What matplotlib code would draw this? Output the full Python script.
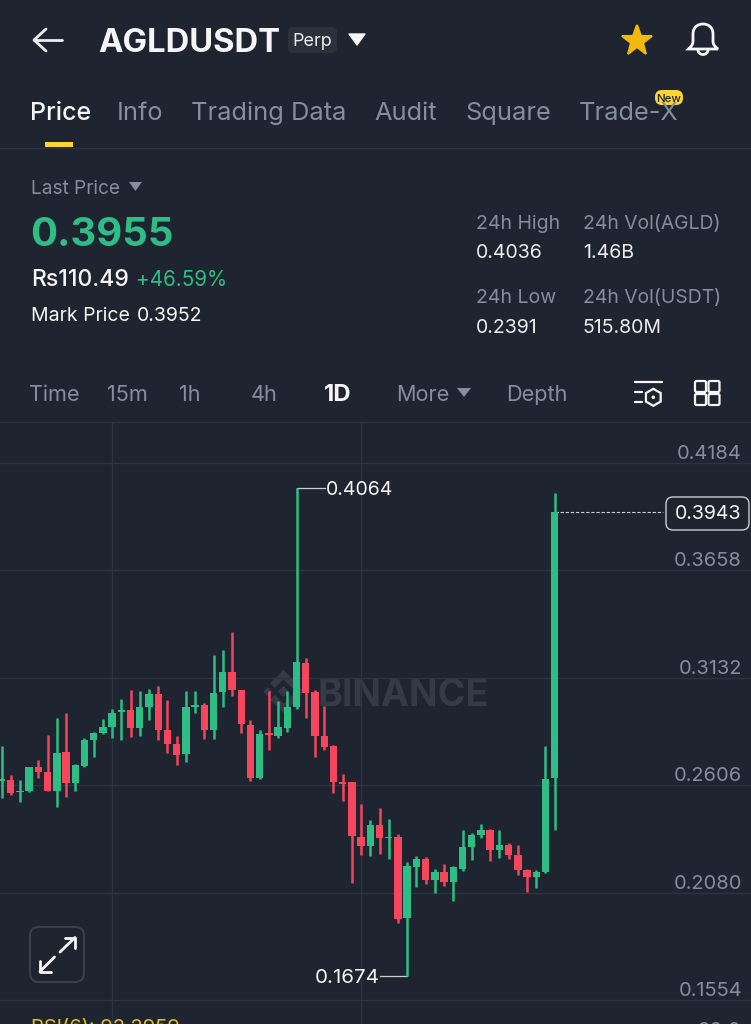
import numpy as np
import matplotlib
matplotlib.use("Agg")
import matplotlib.pyplot as plt
from matplotlib.patches import FancyBboxPatch, Polygon, PathPatch, Circle, RegularPolygon
from matplotlib.path import Path

plt.rcParams['font.family'] = ['Inter', 'DejaVu Sans']

BG = '#1F2530'
GRID = '#2E343F'
GREY = '#848E9C'
LIGHT = '#EAECEF'
GREEN = '#2EBD85'
RED = '#F6465D'
YELLOW = '#FCD535'

# daily candles, oldest first
opens = [.2628, .2633, .2571, .2576, .2693, .2673, .2580, .2768, .2617, .2698, .2827, .2861, .2892,
         .2965, .2975, .2886, .2991, .3055, .2876, .2807, .2758, .2991, .3001, .2876, .3062, .3159,
         .3073, .2903, .2639, .2861, .2848, .2888, .2988, .3206, .3062, .2846, .2796, .2623, .2620,
         .2354, .2309, .2413, .2346, .2351, .1955, .2207, .2245, .2144, .2180, .2133, .2198, .2304,
         .2361, .2388, .2287, .2315, .2264, .2191, .2157, .2180, .2639]
highs = [.2796, .2657, .2633, .2696, .2727, .2853, .2935, .2959, .2711, .2837, .2869, .2930, .2979,
         .3029, .3073, .3069, .3076, .3092, .3021, .2848, .3065, .3065, .3011, .3244, .3269, .3355,
         .3073, .2926, .2877, .3067, .3019, .3069, .4064, .3228, .3073, .2995, .2804, .2661, .2622,
         .2514, .2437, .2494, .2441, .2369, .2230, .2258, .2253, .2196, .2222, .2212, .2385, .2372,
         .2418, .2393, .2387, .2323, .2313, .2196, .2189, .2796, .4036]
lows = [.2543, .2556, .2522, .2573, .2641, .2576, .2497, .2546, .2580, .2693, .2742, .2856, .2837,
        .2828, .2842, .2845, .2926, .2828, .2763, .2703, .2722, .2959, .2832, .2833, .2988, .3045,
        .2861, .2629, .2637, .2779, .2835, .2868, .2981, .2933, .2742, .2779, .2568, .2530, .2128,
        .2266, .2260, .2271, .2246, .1932, .1674, .2106, .2123, .2079, .2111, .2039, .2188, .2242,
        .2348, .2233, .2248, .2245, .2168, .2084, .2105, .2176, .2388]
closes = [.2638, .2568, .2580, .2693, .2673, .2579, .2766, .2617, .2705, .2827, .2861, .2892, .2962,
          .2975, .2887, .2991, .3055, .2877, .2807, .2755, .2991, .3001, .2876, .3060, .3159, .3074,
          .2905, .2643, .2859, .2851, .2890, .2991, .3208, .3057, .2848, .2793, .2623, .2613, .2356,
          .2309, .2411, .2348, .2354, .1952, .2209, .2245, .2144, .2180, .2133, .2203, .2304, .2364,
          .2387, .2287, .2315, .2266, .2189, .2158, .2180, .2636, .3943]

price_ticks = [.4184, .3658, .3132, .2606, .2080, .1554]
tick_labels = ['0.4184', '0.3658', '0.3132', '0.2606', '0.2080', '0.1554']
last_price = .3943
high_mark = .4064
low_mark = .1674


def t(x, y, s, px, color=LIGHT, **kw):
    kw.setdefault('va', 'center_baseline')
    ui.text(x, y, s, fontsize=px * 0.72, color=color, **kw)


def box(x0, y0, x1, y1, r, **kw):
    ui.add_patch(FancyBboxPatch((x0 + r, y0 + r), x1 - x0 - 2 * r, y1 - y0 - 2 * r,
                                boxstyle='round,pad=%f,rounding_size=%f' % (r, r), **kw))


def line(xs, ys, color=LIGHT, lw=2.8):
    ui.plot(xs, ys, color=color, lw=lw * 0.72, solid_capstyle='round', solid_joinstyle='round')


fig = plt.figure(figsize=(7.51, 10.24), dpi=100, facecolor=BG)

# everything that is not the chart lives on a pixel-sized layer
ui = fig.add_axes([0, 0, 1, 1], zorder=0)
ui.set_xlim(0, 751)
ui.set_ylim(1024, 0)
ui.axis('off')

# header
line([34, 62], [40, 40])
line([46, 34, 46], [29, 40, 51])
t(98, 40, 'AGLDUSDT', 32.8, '#F5F5F5', fontweight='bold')
box(288, 27, 337, 53, 5, fc='#2B313B', ec='none')
t(312.5, 40, 'Perp', 18, LIGHT, ha='center')
ui.add_patch(Polygon([(349, 34), (365, 34), (357, 45)], fc='#F5F5F5', ec='#F5F5F5', lw=1, joinstyle='round'))
ui.plot([636.5], [41], marker='*', ms=23, color='#F0B90B', mec='#F0B90B', mew=1.5)
bell = Path([(688.5, 49), (691, 46.5), (693, 45), (693, 41), (693, 34), (693, 27), (698, 24), (703, 24),
             (708, 24), (713, 27), (713, 34), (713, 41), (713, 45), (715, 46.5), (718, 49), (688.5, 49)],
            [Path.MOVETO, Path.CURVE4, Path.CURVE4, Path.CURVE4, Path.LINETO, Path.CURVE4, Path.CURVE4, Path.CURVE4,
             Path.CURVE4, Path.CURVE4, Path.CURVE4, Path.LINETO, Path.CURVE4, Path.CURVE4, Path.CURVE4, Path.CLOSEPOLY])
ui.add_patch(PathPatch(bell, fc='none', ec='#F5F5F5', lw=2))
ui.plot(703 + 5 * np.cos(np.linspace(0, np.pi, 20)), 50 + 4.5 * np.sin(np.linspace(0, np.pi, 20)),
        color='#F5F5F5', lw=2)

# tabs
t(30, 111, 'Price', 25, '#F5F5F5', fontweight='medium')
for x, s in [(117, 'Info'), (191, 'Trading Data'), (374, 'Audit'), (465, 'Square'), (579, 'Trade-X')]:
    t(x, 111, s, 25.4, GREY)
box(655, 90, 683, 105, 7, fc=YELLOW, ec='none')
t(669, 98, 'New', 11.5, '#1E2329', ha='center', fontweight='medium')
ui.fill_between([45, 73], 141.5, 146.5, color=YELLOW, lw=0)
ui.plot([0, 751], [148, 148], color=GRID, lw=1)

# ticker block
t(31, 187, 'Last Price', 19, GREY)
ui.add_patch(Polygon([(129, 182), (142, 182), (135.5, 191)], fc=GREY, ec='none'))
t(30, 231, '0.3955', 40, GREEN, fontweight='bold')
t(31, 278, 'Rs110.49', 23, '#F5F5F5', fontweight='medium')
t(136, 278, '+46.59%', 20.6, GREEN)
t(31, 314, 'Mark Price', 19.5, '#F5F5F5')
t(137, 314, '0.3952', 19.5, '#F5F5F5')
t(476, 222, '24h High', 19.5, GREY)
t(476, 251, '0.4036', 19.5, LIGHT)
t(583, 222, '24h Vol(AGLD)', 19.3, GREY)
t(583, 251, '1.46B', 19.5, LIGHT)
t(476, 296, '24h Low', 19.5, GREY)
t(476, 326, '0.2391', 19.5, LIGHT)
t(583, 296, '24h Vol(USDT)', 19.3, GREY)
t(583, 326, '515.80M', 19.5, LIGHT)

# interval row
for x, s in [(29, 'Time'), (107, '15m'), (179, '1h'), (251, '4h'), (396, 'More'), (506, 'Depth')]:
    t(x, 393, s, 21.7, GREY)
t(324, 392.5, '1D', 24, '#F5F5F5', fontweight='bold')
ui.add_patch(Polygon([(457, 388), (471, 388), (464, 397)], fc=GREY, ec='none'))
line([635, 661.5], [382.3, 382.3], '#F5F5F5', 2.2)
line([635, 641.5], [392, 392], '#F5F5F5', 2.2)
line([635, 641.5], [402.3, 402.3], '#F5F5F5', 2.2)
ui.add_patch(RegularPolygon((653.3, 397.3), 6, radius=8.5, fc='none', ec='#F5F5F5', lw=1.6))
ui.add_patch(Circle((653.3, 397.3), 1.8, fc='#F5F5F5', ec='none'))
for x0 in (695, 708.5):
    for y0 in (381, 394):
        box(x0, y0, x0 + 11, y0 + 11, 1.5, fc='none', ec='#F5F5F5', lw=1.6)
ui.plot([0, 751], [422, 422], color=GRID, lw=1)

# watermark under the candles
wm = '#353B46'
t(317, 692, 'BINANCE', 37.5, wm, fontweight='bold')
cx, cy, s = 283.5, 691.5, 21.5
for dx, dy, r in [(0, 0, .26), (-.74, 0, .2), (.74, 0, .2)]:
    ui.add_patch(Polygon([(cx + (dx - r) * s, cy + dy), (cx + dx * s, cy - r * s),
                          (cx + (dx + r) * s, cy), (cx + dx * s, cy + r * s)], fc=wm, ec='none'))
for sign in (-1, 1):
    ui.add_patch(Polygon([(cx - .62 * s, cy + sign * .38 * s), (cx, cy + sign * s), (cx + .62 * s, cy + sign * .38 * s),
                          (cx + .4 * s, cy + sign * .16 * s), (cx, cy + sign * .56 * s), (cx - .4 * s, cy + sign * .16 * s)],
                         fc=wm, ec='none'))

# chart
ax = fig.add_axes([0, 0, 1, 601 / 1024], zorder=1)
ax.patch.set_alpha(0)
for sp in ax.spines.values():
    sp.set_visible(False)
ax.set_xlim(-1.5 / 9.22, 749.5 / 9.22)
ax.set_ylim(0.14365, 0.43799)
ax.set_yticks(price_ticks)
ax.set_yticklabels([])
ax.set_xticks([12, 39])
ax.set_xticklabels([])
ax.tick_params(length=0)
ax.set_axisbelow(True)
ax.grid(True, color=GRID, lw=1)

idx = np.arange(len(opens))
o = np.array(opens)
c = np.array(closes)
colors = [GREEN if up else RED for up in c >= o]
ax.vlines(idx, lows, highs, colors=colors, lw=1.8, zorder=2)
ax.bar(idx, np.abs(c - o), bottom=np.minimum(o, c), width=0.8, color=colors, lw=0, zorder=3)

for p, lab in zip(price_ticks, tick_labels):
    ax.annotate(lab, (1, p), xycoords=ax.get_yaxis_transform(), xytext=(-9, 11), textcoords='offset pixels',
                ha='right', va='center_baseline', color=GREY, fontsize=20 * 0.72)

hi = idx[np.argmax(highs)]
lo = idx[np.argmin(lows)]
ax.plot([hi, hi + 3.1], [high_mark, high_mark], color='#C9CDD3', lw=0.9, zorder=1)
ax.plot([lo - 3, lo], [low_mark, low_mark], color='#C9CDD3', lw=0.9, zorder=1)
ax.annotate(f'{high_mark:.4f}', xy=(hi, high_mark), xytext=(29, 0), textcoords='offset pixels',
            va='center_baseline', color='#F5F5F5', fontsize=19.6 * 0.72)
ax.annotate(f'{low_mark:.4f}', xy=(lo, low_mark), xytext=(-28, 0), textcoords='offset pixels',
            va='center_baseline', ha='right', color='#F5F5F5', fontsize=20.5 * 0.72)

# last price tag
ax.plot([idx[-1], 71.7], [last_price, last_price], color='#C9CDD3', lw=0.8, ls=(0, (3, 1.6)), zorder=2)
box(666, 497, 749, 530, 7, fc=BG, ec='#C9CDD3', lw=1)
ax.annotate(f'{last_price:.4f}', (1, last_price), xycoords=ax.get_yaxis_transform(), xytext=(-43, 0),
            textcoords='offset pixels', ha='center', va='center_baseline', color='#F5F5F5', fontsize=19.6 * 0.72)

# expand button
box(30, 927, 84, 982, 9, fc=BG, ec='#3A414D', lw=1.4)
line([60, 75], [952, 937.5], '#F5F5F5')
line([64.5, 75, 75], [937.5, 937.5, 948], '#F5F5F5')
line([54.5, 40], [957, 971.5], '#F5F5F5')
line([40, 40, 50.5], [961, 971.5, 971.5], '#F5F5F5')

t(31, 1026, 'RSI(6): 92.2959', 20, '#E5BF1E')
t(741, 1029, '90.0', 20, GREY, ha='right')

fig.savefig('out.png', dpi=100, facecolor=BG)
